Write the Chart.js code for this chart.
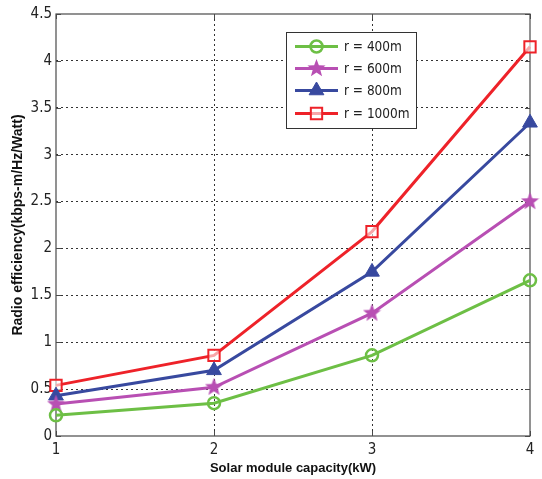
<!DOCTYPE html>
<html>
<head>
<meta charset="utf-8">
<script src="https://cdn.jsdelivr.net/npm/chart.js@4/dist/chart.umd.min.js"></script>
<style>
  html, body { margin: 0; padding: 0; background: #fff; }
  #wrap { width: 542px; height: 479px; }
</style>
</head>
<body>
<div id="wrap"><canvas id="c" width="542" height="479"></canvas></div>
<script>
// Solar module capacity (kW)
const capacity = [1, 2, 3, 4];
// Radio efficiency (kbps-m/Hz/Watt) per cell radius
const r400  = [0.22, 0.35, 0.86, 1.66];
const r600  = [0.34, 0.52, 1.31, 2.50];
const r800  = [0.43, 0.70, 1.75, 3.34];
const r1000 = [0.54, 0.86, 2.18, 4.15];
const seriesLabels = ['r = 400m', 'r = 600m', 'r = 800m', 'r = 1000m'];
const yTicks = [0, 0.5, 1, 1.5, 2, 2.5, 3, 3.5, 4, 4.5];

const GREEN = '#6dbf45', MAGENTA = '#b84fb3', BLUE = '#38499f', RED = '#ee2229';
const TICK_FONT = '"Liberation Sans Narrow", "DejaVu Sans Condensed", "Liberation Sans", sans-serif';

// filled five-pointed star marker
function starMarker(color, size) {
  const cv = document.createElement('canvas');
  cv.width = size; cv.height = size;
  const g = cv.getContext('2d');
  const cx = size / 2, cy = size / 2, ro = size / 2, ri = ro * 0.42;
  g.beginPath();
  for (let i = 0; i < 10; i++) {
    const rr = i % 2 === 0 ? ro : ri;
    const a = -Math.PI / 2 + i * Math.PI / 5;
    g.lineTo(cx + rr * Math.cos(a), cy + rr * Math.sin(a));
  }
  g.closePath();
  g.fillStyle = color;
  g.fill();
  return cv;
}
const star = starMarker(MAGENTA, 19);

function pts(vals) { return capacity.map((x, i) => ({ x: x, y: vals[i] })); }

const datasets = [
  { label: seriesLabels[0], data: pts(r400), borderColor: GREEN, backgroundColor: 'rgba(255,255,255,0)',
    pointStyle: 'circle', pointRadius: 6, pointBorderWidth: 2.5, pointBorderColor: GREEN },
  { label: seriesLabels[1], data: pts(r600), borderColor: MAGENTA, backgroundColor: MAGENTA,
    pointStyle: star, pointRadius: 9 },
  { label: seriesLabels[2], data: pts(r800), borderColor: BLUE, backgroundColor: BLUE,
    pointStyle: 'triangle', pointRadius: 8.5, pointBorderWidth: 1, pointBorderColor: BLUE },
  { label: seriesLabels[3], data: pts(r1000), borderColor: RED, backgroundColor: 'rgba(255,255,255,0.6)',
    pointStyle: 'rect', pointRadius: 8, pointBorderWidth: 2, pointBorderColor: RED }
].map(d => Object.assign({ borderWidth: 3, clip: false, pointHoverRadius: d.pointRadius, pointBackgroundColor: d.backgroundColor }, d));

// axes box with inward tick marks
const boxPlugin = {
  id: 'box',
  beforeDatasetsDraw(chart) {
    const { ctx, chartArea: a, scales } = chart;
    ctx.save();
    ctx.strokeStyle = '#4a4a4a';
    ctx.lineWidth = 1.2;
    ctx.strokeRect(a.left, a.top, a.right - a.left, a.bottom - a.top);
    ctx.lineWidth = 1;
    ctx.beginPath();
    yTicks.forEach(v => {
      const y = Math.round(scales.y.getPixelForValue(v)) + 0.5;
      ctx.moveTo(a.left, y); ctx.lineTo(a.left + 5, y);
      ctx.moveTo(a.right, y); ctx.lineTo(a.right - 5, y);
    });
    capacity.forEach(v => {
      const x = Math.round(scales.x.getPixelForValue(v)) + 0.5;
      ctx.moveTo(x, a.bottom); ctx.lineTo(x, a.bottom - 5);
      ctx.moveTo(x, a.top); ctx.lineTo(x, a.top + 5);
    });
    ctx.stroke();
    ctx.restore();
  }
};

// legend box drawn inside the plot area
const legendPlugin = {
  id: 'boxLegend',
  afterDatasetsDraw(chart) {
    const ctx = chart.ctx;
    const bx = 286, by = 32, bw = 130, bh = 96;
    ctx.save();
    ctx.fillStyle = '#ffffff';
    ctx.fillRect(bx, by, bw, bh);
    ctx.strokeStyle = '#333';
    ctx.lineWidth = 1;
    ctx.strokeRect(bx + 0.5, by + 0.5, bw, bh);
    const rows = [46.5, 68.5, 90.5, 113.5];
    chart.data.datasets.forEach((ds, i) => {
      const y = rows[i];
      ctx.strokeStyle = ds.borderColor;
      ctx.lineWidth = 3;
      ctx.beginPath();
      ctx.moveTo(295, y); ctx.lineTo(338, y);
      ctx.stroke();
      ctx.fillStyle = ds.pointBackgroundColor;
      ctx.strokeStyle = ds.pointBorderColor || ds.borderColor;
      ctx.lineWidth = ds.pointBorderWidth || 1;
      Chart.helpers.drawPoint(ctx, { pointStyle: ds.pointStyle, radius: ds.pointRadius, rotation: 0, borderWidth: ds.pointBorderWidth || 1 }, 316.5, y);
      ctx.fillStyle = '#222';
      ctx.font = '13.5px ' + TICK_FONT;
      ctx.textBaseline = 'middle';
      ctx.textAlign = 'left';
      ctx.fillText(ds.label, 344, y + 1);
    });
    ctx.restore();
  }
};

const gridColor = (ctx, edgeVals) =>
  edgeVals.includes(ctx.tick && ctx.tick.value) ? 'rgba(0,0,0,0)' : '#333';

new Chart(document.getElementById('c'), {
  type: 'line',
  data: { datasets: datasets },
  plugins: [boxPlugin, legendPlugin],
  options: {
    responsive: false,
    animation: false,
    events: [],
    layout: { padding: { top: 14, right: 3, left: 0, bottom: 0 } },
    plugins: { legend: { display: false }, tooltip: { enabled: false } },
    scales: {
      x: {
        type: 'linear', min: 1, max: 4,
        afterBuildTicks: s => { s.ticks = capacity.map(v => ({ value: v })); },
        afterFit: s => { s.height = 43; },
        grid: { color: c => gridColor(c, [1, 4]), lineWidth: 1, drawTicks: false },
        border: { display: false, dash: [2, 3] },
        ticks: { padding: 5, color: '#222', font: { family: TICK_FONT, size: 15 },
                 callback: v => String(v) },
        title: { display: true, text: 'Solar module capacity(kW)', color: '#111',
                 font: { family: '"Liberation Sans", Arial, sans-serif', size: 13, weight: 'bold' },
                 padding: { top: 0, bottom: 3 } }
      },
      y: {
        type: 'linear', min: 0, max: 4.5,
        afterBuildTicks: s => { s.ticks = yTicks.map(v => ({ value: v })); },
        afterFit: s => { s.width = 56; },
        grid: { color: c => gridColor(c, [0, 4.5]), lineWidth: 1, drawTicks: false },
        border: { display: false, dash: [2, 3] },
        ticks: { padding: 4, color: '#222', font: { family: TICK_FONT, size: 15 },
                 callback: v => String(v) },
        title: { display: true, text: 'Radio efficiency(kbps-m/Hz/Watt)', color: '#111',
                 font: { family: '"Liberation Sans", Arial, sans-serif', size: 14, weight: 'bold' },
                 padding: { top: 10, bottom: 0 } }
      }
    }
  }
});
</script>
</body>
</html>
